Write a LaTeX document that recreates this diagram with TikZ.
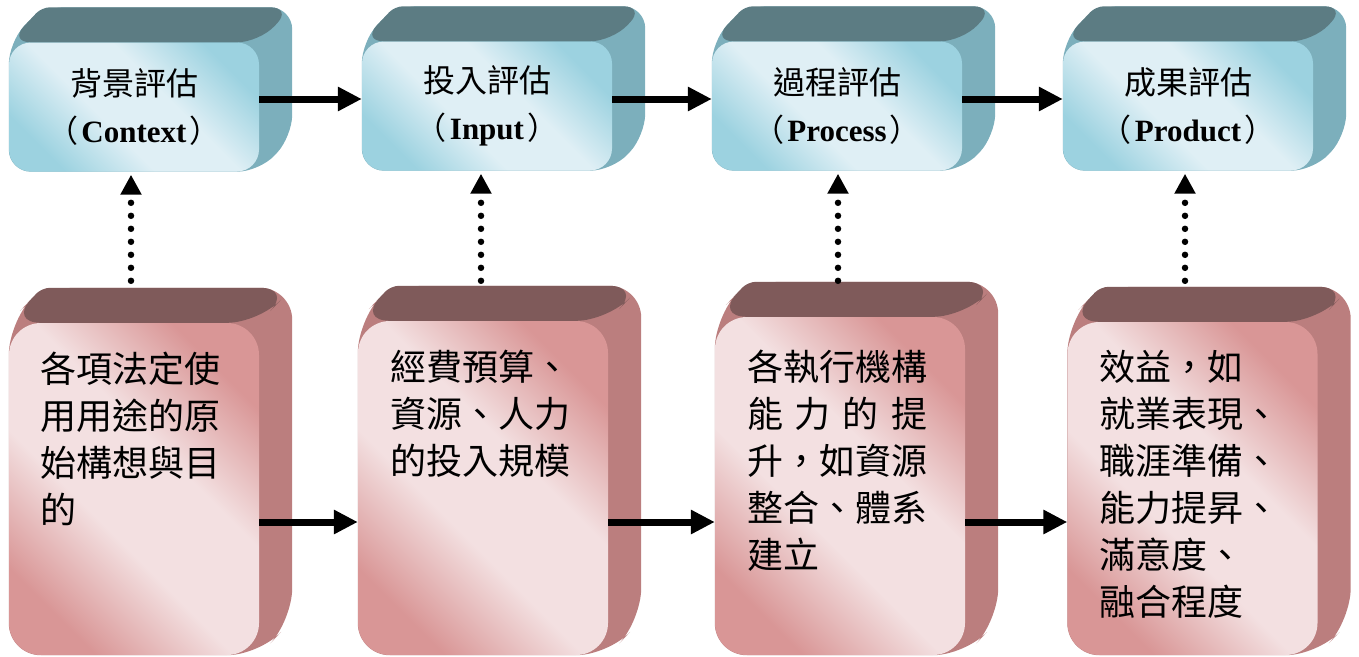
\documentclass[tikz,border=0pt]{standalone}
\usepackage{fontspec}
\setmainfont{Liberation Serif}
\newfontfamily\cjk{Noto Sans CJK TC}
\usetikzlibrary{arrows.meta,backgrounds}
\definecolor{topTop}{HTML}{5C7C83}
\definecolor{topSide}{HTML}{7CAFBC}
\definecolor{topA}{HTML}{9CD2E0}
\definecolor{topB}{HTML}{DFEFF5}
\definecolor{botTop}{HTML}{7F5A5A}
\definecolor{botSide}{HTML}{BB7E7E}
\definecolor{botA}{HTML}{D99696}
\definecolor{botB}{HTML}{F3E0E1}
\pgfdeclareverticalshading{topshade}{100bp}{color(0bp)=(topA); color(25bp)=(topA);
  color(42bp)=(topB); color(58bp)=(topB); color(75bp)=(topA); color(100bp)=(topA)}
\pgfdeclareverticalshading{botshade}{100bp}{color(0bp)=(botA); color(25bp)=(botA);
  color(42bp)=(botB); color(58bp)=(botB); color(75bp)=(botA); color(100bp)=(botA)}
\tikzset{
  topfront/.style={rounded corners=22pt, minimum width=250pt, minimum height=129pt,
    inner sep=0pt, shading=topshade, shading angle=135,
    align=center, font=\fontsize{31}{47}\selectfont},
  botfront/.style={rounded corners=32pt, minimum width=250pt, inner sep=0pt,
    shading=botshade, shading angle=135},
  bottext/.style={anchor=north west, inner sep=0pt, align=left,
    font=\cjk\fontsize{36}{47}\selectfont},
  flow/.style={line width=7pt, -{Triangle[length=24pt,width=23pt]}},
  dotflow/.style={line width=6.5pt, line cap=round, dash pattern=on 0pt off 13pt,
    -{Triangle[length=20pt,width=20pt]}}
}
\newcommand\boxextrude[4]{%
  \begin{pgfonlayer}{background}
    \fill[#3, rounded corners=#4] (#1.north west)
      -- ([shift={(33,-35)}]#1.north west) [rounded corners=#4]
      -- ([shift={(33,-35)}]#1.north east) -- ([shift={(33,-35)}]#1.south east)
      -- (#1.south east) -- (#1.south west) -- cycle;
    \fill[#2, rounded corners=8pt] (#1.north west)
      -- ([shift={(33,-35)}]#1.north west) [rounded corners=#4]
      -- ([shift={(33,-35)}]#1.north east) -- (#1.north east) -- cycle;
  \end{pgfonlayer}}
\newcommand\paren[1]{{\cjk （}\kern3pt\textbf{#1}\kern3pt{\cjk ）}}
\newcommand\toptitle[1]{{\cjk\fontsize{32}{47}\selectfont #1}}
\begin{document}
\begin{tikzpicture}[x=1pt,y=-1pt]
\useasboundingbox (0,0) rectangle (1359,656);
% top boxes
\node[topfront] (t1) at (134,107) {\toptitle{背景評估}\\\paren{Context}};
\node[topfront] (t2) at (487,106) {\toptitle{投入評估}\\\paren{Input}};
\node[topfront] (t3) at (837,106) {\toptitle{過程評估}\\\paren{Process}};
\node[topfront] (t4) at (1188,106) {\toptitle{成果評估}\\\paren{Product}};
\boxextrude{t1}{topTop}{topSide}{22pt}
\boxextrude{t2}{topTop}{topSide}{22pt}
\boxextrude{t3}{topTop}{topSide}{22pt}
\boxextrude{t4}{topTop}{topSide}{22pt}
% bottom boxes
\node[botfront, minimum height=332pt] (b1) at (134,489) {};
\node[botfront, minimum height=334pt] (b2) at (483,488) {};
\node[botfront, minimum height=338pt] (b3) at (840,486) {};
\node[botfront, minimum height=333pt] (b4) at (1192.5,488.5) {};
\boxextrude{b1}{botTop}{botSide}{32pt}
\boxextrude{b2}{botTop}{botSide}{32pt}
\boxextrude{b3}{botTop}{botSide}{32pt}
\boxextrude{b4}{botTop}{botSide}{32pt}
\node[bottext] (b1t) at ([shift={(31,29)}]b1.north west) {各項法定使\\用用途的原\\始構想與目\\的};
\node[bottext] (b2t) at ([shift={(32,29)}]b2.north west) {經費預算、\\資源、人力\\的投入規模};
\node[bottext] (b3t) at ([shift={(32,33)}]b3.north west) {各執行機構\\\makebox[5em][s]{能 力 的 提}\\升，如資源\\整合、體系\\建立};
\node[bottext] (b4t) at ([shift={(32,28)}]b4.north west) {效益，如\\就業表現、\\職涯準備、\\能力提昇、\\滿意度、\\融合程度};
% horizontal flows
\draw[flow] (t1.east |- 0,99) -- (t2.west |- 0,99);
\draw[flow] (t2.east |- 0,99) -- (t3.west |- 0,99);
\draw[flow] (t3.east |- 0,99) -- (t4.west |- 0,99);
\draw[flow] (b1.east |- 0,522) -- (b2.west |- 0,522);
\draw[flow] (b2.east |- 0,522) -- (b3.west |- 0,522);
\draw[flow] (b3.east |- 0,522) -- (b4.west |- 0,522);
% dotted flows
\draw[dotflow, shorten <=42pt, shorten >=3pt] ([xshift=-3pt]b1.north) -- ([xshift=-3pt]b1.north |- t1.south);
\draw[dotflow, shorten <=40pt, shorten >=3pt] ([xshift=-2pt]b2.north) -- ([xshift=-2pt]b2.north |- t2.south);
\draw[dotflow, shorten <=36pt, shorten >=3pt] ([xshift=-2pt]b3.north) -- ([xshift=-2pt]b3.north |- t3.south);
\draw[dotflow, shorten <=41pt, shorten >=3pt] ([xshift=-7.5pt]b4.north) -- ([xshift=-7.5pt]b4.north |- t4.south);
\end{tikzpicture}
\end{document}
